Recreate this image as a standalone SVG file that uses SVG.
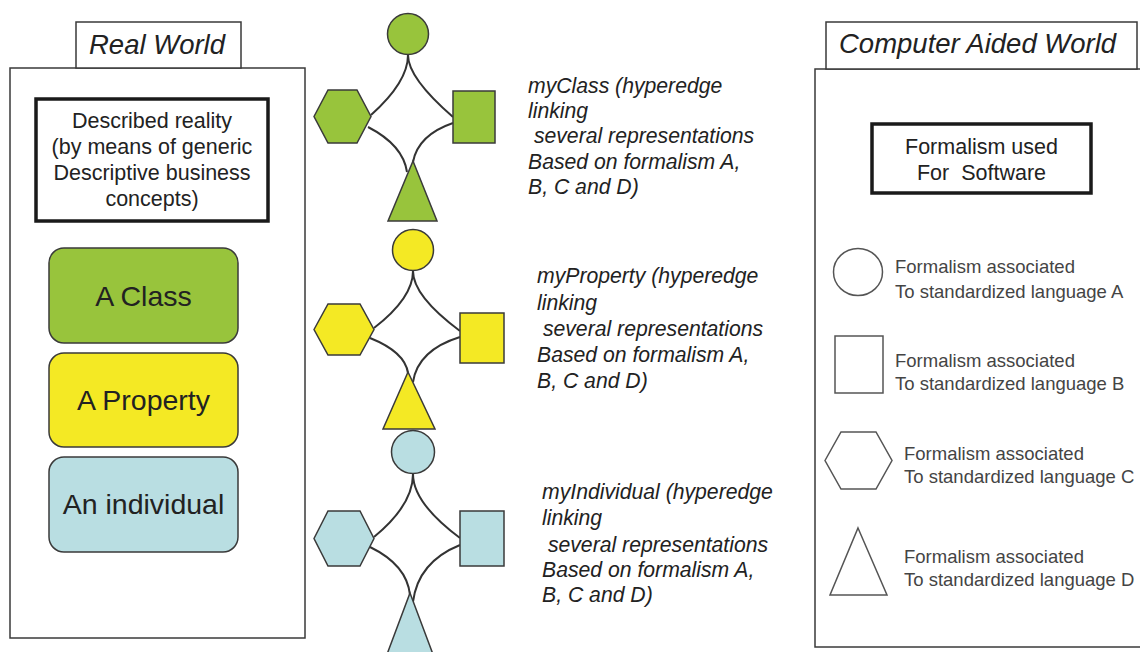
<svg xmlns="http://www.w3.org/2000/svg" width="1140" height="652" viewBox="0 0 1140 652">
<style>
.panel{fill:#fff;stroke:#3a3a3a;stroke-width:1.5}
.thick{fill:#fff;stroke:#1a1a1a;stroke-width:3.5}
.shape{stroke:#3a3a3a;stroke-width:1.5}
.g{fill:#98c43c}
.y{fill:#f4e924}
.b{fill:#b9dee2}
.leg{fill:none;stroke:#555;stroke-width:1.5}
.edge{fill:none;stroke:#333;stroke-width:2}
.title{font-family:"Liberation Sans",Arial,sans-serif;font-style:italic;font-size:27.5px;fill:#222}
.desc{font-family:"Liberation Sans",Arial,sans-serif;font-size:21.5px;fill:#222;text-anchor:middle}
.big{font-family:"Liberation Sans",Arial,sans-serif;font-size:28.5px;fill:#222;text-anchor:middle}
.lab{font-family:"Liberation Sans",Arial,sans-serif;font-style:italic;font-size:21.2px;fill:#222;white-space:pre}
.legt{font-family:"Liberation Sans",Arial,sans-serif;font-size:18.5px;fill:#444}
</style>

<g id="real-world">
  <rect class="panel" x="10" y="68" width="295" height="570"/>
  <rect class="panel" x="76" y="22" width="165" height="46"/>
  <text class="title" x="89" y="54">Real World</text>
</g>

<g id="described-reality">
  <rect class="thick" x="36" y="99" width="232" height="122"/>
  <text class="desc" x="152" y="128">Described reality</text>
  <text class="desc" x="152" y="154">(by means of generic</text>
  <text class="desc" x="152" y="180">Descriptive business</text>
  <text class="desc" x="152" y="206">concepts)</text>
</g>

<g id="a-class">
  <rect class="shape g" x="49" y="248" width="189" height="95" rx="15"/>
  <text class="big" x="143.5" y="306">A Class</text>
</g>
<g id="a-property">
  <rect class="shape y" x="49" y="353" width="189" height="94" rx="15"/>
  <text class="big" x="143.5" y="410">A Property</text>
</g>
<g id="an-individual">
  <rect class="shape b" x="49" y="457" width="189" height="95" rx="15"/>
  <text class="big" x="143.5" y="514">An individual</text>
</g>

<g id="connectors">
  <path class="edge" d="M408,55 Q408,82 371,115"/>
  <path class="edge" d="M408,55 Q408,78 453,117"/>
  <path class="edge" d="M368,127 Q403,145 407,172"/>
  <path class="edge" d="M453,123 Q418,135 413,162"/>
  <path class="edge" d="M413,271 Q413,298 374,328"/>
  <path class="edge" d="M413,271 Q413,296 460,331"/>
  <path class="edge" d="M370,338 Q405,352 408,373"/>
  <path class="edge" d="M460,337 Q418,350 413,382"/>
  <path class="edge" d="M413,474 Q413,505 374,537"/>
  <path class="edge" d="M413,474 Q413,503 460,538"/>
  <path class="edge" d="M370,547 Q407,565 410,595"/>
  <path class="edge" d="M460,545 Q418,562 413,602"/>
</g>

<g id="myClass">
  <circle class="shape g" cx="408" cy="34" r="20.5"/>
  <polygon class="shape g" points="314,116.5 328,90 357,90 371,116.5 357,143 328,143"/>
  <rect class="shape g" x="453" y="91" width="42" height="52"/>
  <polygon class="shape g" points="413,161 437,221 388,221"/>
  <text class="lab" x="528" y="93">myClass (hyperedge</text>
  <text class="lab" x="528" y="118">linking</text>
  <text class="lab" x="528" y="143"> several representations</text>
  <text class="lab" x="528" y="169">Based on formalism A,</text>
  <text class="lab" x="528" y="194">B, C and D)</text>
</g>

<g id="myProperty">
  <circle class="shape y" cx="413" cy="250" r="20.5"/>
  <polygon class="shape y" points="314,329.5 328,304 360,304 374,329.5 360,355 328,355"/>
  <rect class="shape y" x="460" y="313" width="44" height="50"/>
  <polygon class="shape y" points="408,372 435,429 383,429"/>
  <text class="lab" x="537" y="283">myProperty (hyperedge</text>
  <text class="lab" x="537" y="310">linking</text>
  <text class="lab" x="537" y="336"> several representations</text>
  <text class="lab" x="537" y="362">Based on formalism A,</text>
  <text class="lab" x="537" y="388">B, C and D)</text>
</g>

<g id="myIndividual">
  <polygon class="shape b" points="410,593 437,665 383,665"/>
  <circle class="shape b" cx="413" cy="452" r="21.5"/>
  <polygon class="shape b" points="314,538.5 328,511 360,511 374,538.5 360,566 328,566"/>
  <rect class="shape b" x="460" y="511" width="44" height="55"/>
  <text class="lab" x="542" y="499">myIndividual (hyperedge</text>
  <text class="lab" x="542" y="525">linking</text>
  <text class="lab" x="542" y="552"> several representations</text>
  <text class="lab" x="542" y="577">Based on formalism A,</text>
  <text class="lab" x="542" y="602">B, C and D)</text>
</g>

<g id="computer-aided-world">
  <rect class="panel" x="815" y="69" width="340" height="578"/>
  <rect class="panel" x="826" y="22" width="311" height="47"/>
  <text class="title" x="839" y="53">Computer Aided World</text>
</g>

<g id="formalism-software">
  <rect class="thick" x="872" y="124" width="219" height="69"/>
  <text class="desc" x="981.5" y="154">Formalism used</text>
  <text class="desc" x="981.5" y="180" style="white-space:pre">For  Software</text>
</g>

<g id="legend-a">
  <ellipse class="leg" cx="858" cy="272" rx="24.5" ry="23.5"/>
  <text class="legt" x="895" y="273">Formalism associated</text>
  <text class="legt" x="895" y="298">To standardized language A</text>
</g>
<g id="legend-b">
  <rect class="leg" x="835" y="336" width="48" height="57"/>
  <text class="legt" x="895" y="367">Formalism associated</text>
  <text class="legt" x="895" y="390">To standardized language B</text>
</g>
<g id="legend-c">
  <polygon class="leg" points="825,460.5 841,432 876,432 892,460.5 876,489 841,489"/>
  <text class="legt" x="904" y="460">Formalism associated</text>
  <text class="legt" x="904" y="483">To standardized language C</text>
</g>
<g id="legend-d">
  <polygon class="leg" points="858,528 887,595 830,595"/>
  <text class="legt" x="904" y="563">Formalism associated</text>
  <text class="legt" x="904" y="586">To standardized language D</text>
</g>
</svg>
